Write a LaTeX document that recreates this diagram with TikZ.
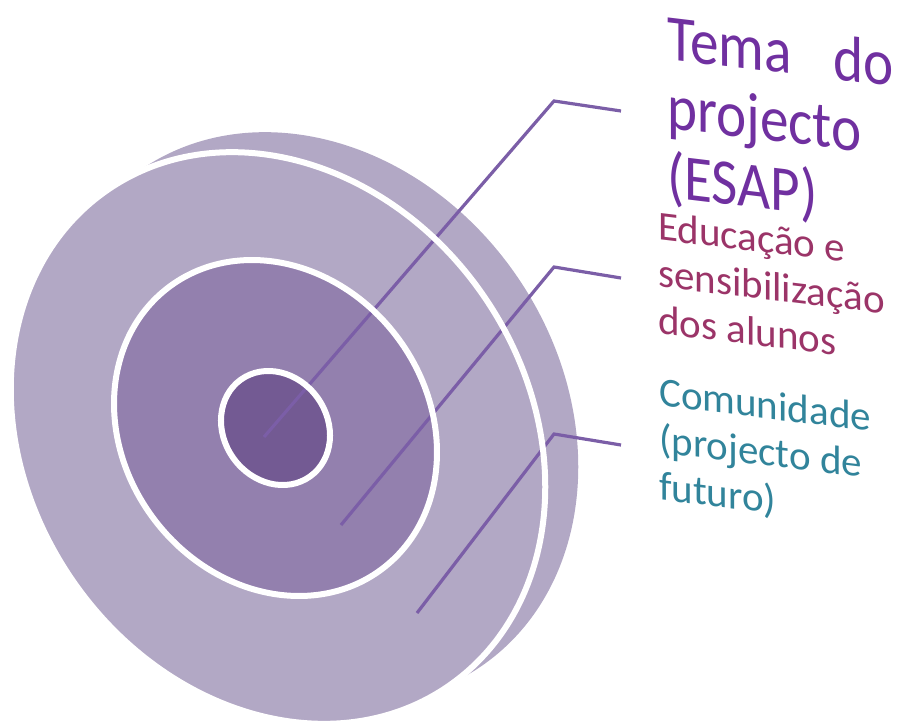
\documentclass[tikz,border=0pt]{standalone}
\usepackage{fontspec}
\setmainfont{Carlito}
\usetikzlibrary{positioning}
\definecolor{lilac}{HTML}{B2A8C5}
\definecolor{midpurple}{HTML}{9380AE}
\definecolor{deeppurple}{HTML}{735A93}
\definecolor{leadcol}{HTML}{7B5EA7}
\definecolor{themecol}{HTML}{7030A0}
\definecolor{educol}{HTML}{9B3468}
\definecolor{comcol}{HTML}{31849B}
\tikzset{
  ringline/.style={draw=white, line width=6pt},
  leader/.style={draw=leadcol, line width=3.2pt},
  slanttext/.style={anchor=north west, inner sep=0pt, yslant=-0.12, align=left}
}

\begin{document}
\begin{tikzpicture}[x=1pt,y=-1pt]
\useasboundingbox (0,0) rectangle (901,722);
\clip (0,0) rectangle (901,722);
\fill[lilac, rotate around={-55.7:(311,418)}] (311,418) ellipse [x radius=301pt, y radius=250pt];
\fill[lilac, rotate around={-55.7:(278,438)}] (278,438) ellipse [x radius=301pt, y radius=250pt];
\fill[midpurple, rotate around={-52.6:(275.5,428)}] (275.5,428) ellipse [x radius=176.7pt, y radius=151.9pt];
\fill[deeppurple, rotate around={-54.5:(275.5,428)}] (275.5,428) ellipse [x radius=59.5pt, y radius=51.8pt];

\coordinate (core) at (264,437);
\coordinate (mid) at (341,525);
\coordinate (rim) at (417,613);
\coordinate (k1) at (554,101);
\coordinate (k2) at (554,267);
\coordinate (k3) at (554,434);
\coordinate (t1) at (621,111);
\coordinate (t2) at (621,278);
\coordinate (t3) at (621,445);
\draw[leader] (core) -- (k1) -- (t1);
\draw[leader] (mid) -- (k2) -- (t2);
\draw[leader] (rim) -- (k3) -- (t3);

\draw[ringline, rotate around={-55.7:(278,438)}] (278,438) ellipse [x radius=301pt, y radius=250pt];
\draw[ringline, rotate around={-52.6:(275.5,428)}] (275.5,428) ellipse [x radius=176.7pt, y radius=151.9pt];
\draw[ringline, rotate around={-54.5:(275.5,428)}] (275.5,428) ellipse [x radius=59.5pt, y radius=51.8pt];

\node[slanttext, xscale=0.88, text=themecol, font=\fontsize{65}{69}\selectfont, text width=257pt] (theme) at (667,14)
  {Tema\hfill do\\projecto\\(ESAP)};
\node[slanttext, text=educol, font=\fontsize{41}{47}\selectfont] (school) at (658,211)
  {Educação e\\sensibilização\\dos alunos};
\node[slanttext, text=comcol, font=\fontsize{41}{47}\selectfont] (community) at (659,377)
  {Comunidade\\(projecto de\\futuro)};
\end{tikzpicture}
\end{document}
